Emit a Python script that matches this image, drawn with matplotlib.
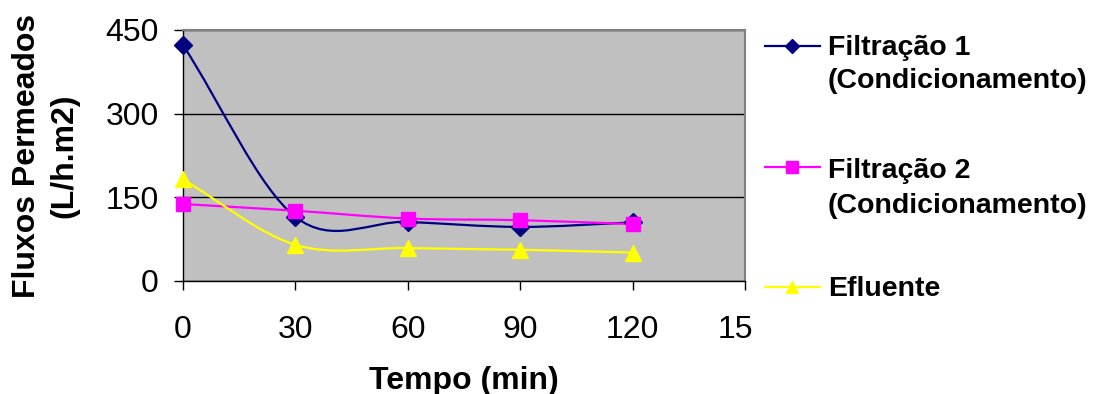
import matplotlib
matplotlib.use("Agg")
import matplotlib.pyplot as plt
import matplotlib.transforms as mtransforms
from matplotlib.path import Path
from matplotlib.patches import PathPatch
from matplotlib.lines import Line2D

plt.rcParams['font.family'] = ['Liberation Sans', 'DejaVu Sans']

# ======= dados =======
tempo = [0, 30, 60, 90, 120]
filtracao1 = [423, 115, 106, 97, 105]
filtracao2 = [138, 126, 112, 109, 102]
efluente = [182, 65, 59, 56, 51]

nomes = ['Filtração 1\n(Condicionamento)', 'Filtração 2\n(Condicionamento)', 'Efluente']
x_ticks = [0, 30, 60, 90, 120, 150]
x_tick_labels = ['0', '30', '60', '90', '120', '15']
y_ticks = [0, 150, 300, 450]
# =====================================

W, H = 1094, 394


def smooth_path(xs, ys):
    # curva suavizada estilo Excel (Bezier a partir dos pontos)
    pts = list(zip(xs, ys))
    verts = [pts[0]]
    codes = [Path.MOVETO]
    n = len(pts)
    for i in range(n - 1):
        p1 = pts[i]
        p2 = pts[i + 1]
        if i > 0:
            p0 = pts[i - 1]
            c1 = (p1[0] + (p2[0] - p0[0]) / 6, p1[1] + (p2[1] - p0[1]) / 6)
        else:
            c1 = (p1[0] + (p2[0] - p1[0]) / 3, p1[1] + (p2[1] - p1[1]) / 3)
        if i + 2 < n:
            p3 = pts[i + 2]
            c2 = (p2[0] - (p3[0] - p1[0]) / 6, p2[1] - (p3[1] - p1[1]) / 6)
        else:
            c2 = (p2[0] - (p2[0] - p1[0]) / 3, p2[1] - (p2[1] - p1[1]) / 3)
        verts += [c1, c2, p2]
        codes += [Path.CURVE4] * 3
    return Path(verts, codes)


fig = plt.figure(figsize=(W / 100, H / 100), dpi=100)
ax = fig.add_axes([183 / W, 1 - 281 / H, (745 - 183) / W, (281 - 30) / H])
ax.set_facecolor('#C0C0C0')

series = [
    (filtracao1, '#000080', 'D', 9),
    (filtracao2, '#FF00FF', 's', 10),
    (efluente, '#FFFF00', '^', 11),
]

for ys, cor, mk, ms in series:
    ax.add_patch(PathPatch(smooth_path(tempo, ys), facecolor='none',
                           edgecolor=cor, lw=1.6, zorder=3))
    ax.plot(tempo, ys, linestyle='none', marker=mk, ms=ms, color=cor,
            zorder=4, clip_on=False)

ax.set_xlim(0, 150)
ax.set_ylim(0, 450)
ax.set_xticks(x_ticks)
ax.set_xticklabels(x_tick_labels)
ax.set_yticks(y_ticks)
ax.tick_params(axis='both', labelsize=23, length=6.5, width=1,
               direction='out', colors='black')
ax.tick_params(axis='x', pad=18)
ax.tick_params(axis='y', pad=11)
ax.yaxis.grid(True, color='black', lw=1)
ax.set_axisbelow(True)

# o rótulo "150" aparece cortado como "15" no original
ultimo = ax.get_xticklabels()[-1]
ultimo.set_horizontalalignment('left')
ultimo.set_transform(ultimo.get_transform() +
                     mtransforms.ScaledTranslation(-0.27, 0, fig.dpi_scale_trans))

for lado in ['top', 'right']:
    ax.spines[lado].set_color('#808080')
    ax.spines[lado].set_linewidth(1.5)
for lado in ['left', 'bottom']:
    ax.spines[lado].set_color('black')
    ax.spines[lado].set_linewidth(1)

ax.set_xlabel('Tempo (min)', fontsize=23, fontweight='bold', va='center')
ax.xaxis.set_label_coords(0.5, (281 - 381) / 251)
ax.set_ylabel('Fluxos Permeados\n(L/h.m2)', fontsize=23, fontweight='bold',
              linespacing=1.32, va='center')
ax.yaxis.set_label_coords((46 - 183) / 562, 0.5)

# legenda à direita (alça alinhada com a primeira linha do texto)
leg_y = [46, 167, 287]
leg_base = [[55, 88], [178, 213], [296]]
for (ys, cor, mk, ms), nome, yh, bases in zip(series, nomes, leg_y, leg_base):
    fig.add_artist(Line2D([765 / W, 820 / W], [1 - yh / H, 1 - yh / H],
                          color=cor, lw=1.6, transform=fig.transFigure))
    fig.add_artist(Line2D([792 / W], [1 - yh / H], color=cor, marker=mk,
                          ms=ms * 0.8, linestyle='none',
                          transform=fig.transFigure))
    for linha, yb in zip(nome.split('\n'), bases):
        fig.text(828 / W, 1 - yb / H, linha, fontsize=20.5,
                 fontweight='bold', va='baseline', ha='left')

fig.savefig('out.png', dpi=100)
